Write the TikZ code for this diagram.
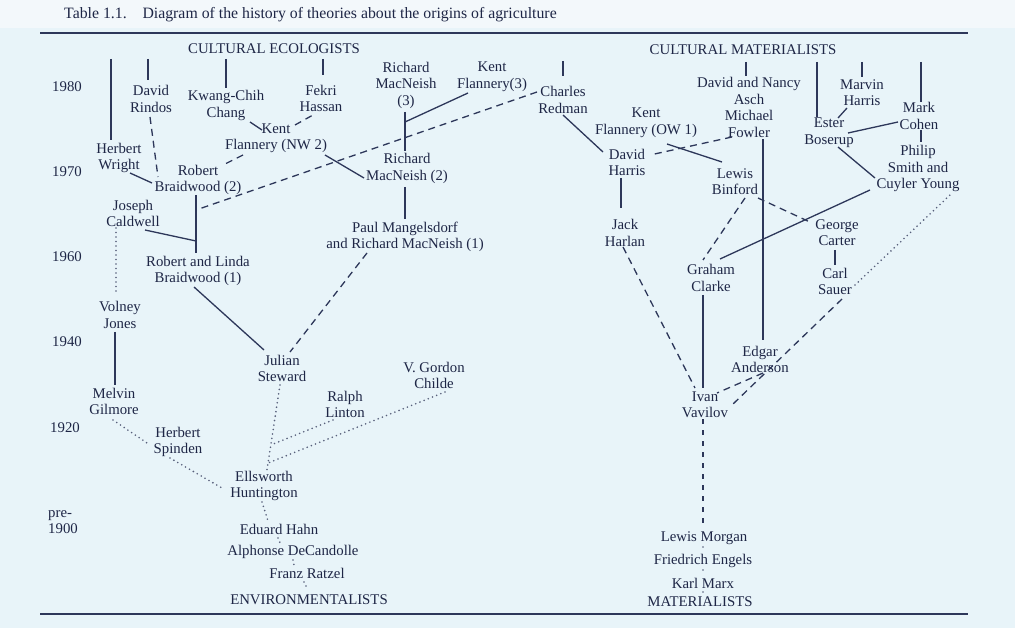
\documentclass[tikz,border=0pt]{standalone}
\usepackage{fontspec}
\setmainfont{Liberation Serif}
\usetikzlibrary{calc}
\definecolor{bg}{RGB}{232,244,249}
\definecolor{bgtop}{RGB}{243,248,251}
\definecolor{ink}{RGB}{30,38,70}
\definecolor{lnk}{RGB}{45,55,90}
\begin{document}
\begin{tikzpicture}[x=1pt,y=-1pt,
  nm/.style={align=center, font=\fontsize{14.8}{16.5}\selectfont, text=ink, inner sep=1pt},
  sol/.style={draw=lnk, line width=1.3pt},
  dsh/.style={draw=lnk, line width=1.3pt, dash pattern=on 7pt off 5pt},
  vdsh/.style={draw=lnk, line width=1.3pt, dash pattern=on 5pt off 6pt},
  dtt/.style={draw=lnk!80, line width=1.8pt, line cap=round, dash pattern=on 0pt off 4.5pt},
  rule/.style={draw=lnk, line width=1.4pt}]
\fill[bg] (0,0) rectangle (1015,628);
\fill[bgtop] (0,0) rectangle (1015,28);
\useasboundingbox (0,0) rectangle (1015,628);

% title and rules
\node[anchor=west, inner sep=0pt, text=ink, font=\fontsize{15.8}{18}\selectfont] (title) at (64,15) {Table 1.1.\quad Diagram of the history of theories about the origins of agriculture};
\draw[rule] (40,33) -- (968,33);
\draw[rule] (40,614) -- (968,614);

% years
\node[nm] (y1980) at (67,87) {1980};
\node[nm] (y1970) at (67,172) {1970};
\node[nm] (y1960) at (67,257) {1960};
\node[nm] (y1940) at (67,342) {1940};
\node[nm] (y1920) at (65,428) {1920};
\node[nm, align=left, anchor=west] (y1900) at (47,522) {pre-\\1900};

% headers
\node[nm] (ce) at (274,49) {CULTURAL ECOLOGISTS};
\node[nm] (cm) at (743,50) {CULTURAL MATERIALISTS};
\node[nm] (env) at (309,600) {ENVIRONMENTALISTS};
\node[nm] (mat) at (700,602) {MATERIALISTS};

% left / ecologists
\node[nm] (wright) at (119,158) {Herbert\\Wright};
\node[nm] (rindos) at (151,99) {David\\Rindos};
\node[nm] (chang) at (226,105.5) {Kwang-Chih\\Chang};
\node[nm] (hassan) at (321,98.5) {Fekri\\Hassan};
\node[nm] (nw2) at (276,138.5) {Kent\\Flannery (NW 2)};
\node[nm] (bw2) at (198,180) {Robert\\Braidwood (2)};
\node[nm] (mac3) at (406,85) {Richard\\MacNeish\\(3)};
\node[nm] (fl3) at (492,77) {Kent\\Flannery(3)};
\node[nm] (mac2) at (407,168.5) {Richard\\MacNeish (2)};
\node[nm] (mang) at (405,237) {Paul Mangelsdorf\\and Richard MacNeish (1)};
\node[nm] (redman) at (563,100) {Charles\\Redman};
\node[nm] (caldwell) at (133,213.5) {Joseph\\Caldwell};
\node[nm] (bw1) at (198,271) {Robert and Linda\\Braidwood (1)};
\node[nm] (steward) at (282,368.5) {Julian\\Steward};
\node[nm] (volney) at (120,315) {Volney\\Jones};
\node[nm] (gilmore) at (114,401.5) {Melvin\\Gilmore};
\node[nm] (spinden) at (178,442) {Herbert\\Spinden};
\node[nm] (linton) at (345,404.5) {Ralph\\Linton};
\node[nm] (childe) at (434,375.5) {V. Gordon\\Childe};
\node[nm] (hunt) at (264,486) {Ellsworth\\Huntington};
\node[nm] (hahn) at (279,529) {Eduard Hahn};
\node[nm] (decand) at (293,552) {Alphonse DeCandolle};
\node[nm] (ratzel) at (307,573) {Franz Ratzel};

% right / materialists
\node[nm] (asch) at (749,91) {David and Nancy\\Asch};
\node[nm] (fowler) at (749,124) {Michael\\Fowler};
\node[nm] (ow1) at (646,123) {Kent\\Flannery (OW 1)};
\node[nm] (harris) at (627,162.5) {David\\Harris};
\node[nm] (harlan) at (625,233) {Jack\\Harlan};
\node[nm] (binford) at (735,181.5) {Lewis\\Binford};
\node[nm] (clarke) at (711,278) {Graham\\Clarke};
\node[nm] (carter) at (837,232.5) {George\\Carter};
\node[nm] (sauer) at (835,281.5) {Carl\\Sauer};
\node[nm] (anderson) at (760,359.5) {Edgar\\Anderson};
\node[nm] (vavilov) at (705,405) {Ivan\\Vavilov};
\node[nm] (morgan) at (704,538) {Lewis Morgan};
\node[nm] (engels) at (703,561) {Friedrich Engels};
\node[nm] (marx) at (703,583) {Karl Marx};
\node[nm] (ester) at (829,132.5) {Ester\\Boserup};
\node[nm] (marvin) at (862,92.5) {Marvin\\Harris};
\node[nm] (cohen) at (919,116) {Mark\\Cohen};
\node[nm] (smith) at (918,168.5) {Philip\\Smith and\\Cuyler Young};

% top free ends
\coordinate (tWr) at (111,59);
\coordinate (tRi) at (148,59);
\coordinate (tCh) at (226,59);
\coordinate (tHa) at (323,59);
\coordinate (tRe) at (563,61);
\coordinate (tAs) at (746,62);
\coordinate (tEs) at (817,62);
\coordinate (tMa) at (862,62);
\coordinate (tCo) at (921,62);
\draw[sol] (tWr) -- ($(wright)+(-8,-18)$);
\draw[sol] (tRi) -- ($(rindos)+(-3,-19)$);
\draw[sol] (tCh) -- ($(chang)+(0,-17.5)$);
\draw[sol] (tHa) -- ($(hassan)+(2,-23.5)$);
\draw[sol] (tRe) -- ($(redman)+(0,-24)$);
\draw[sol] (tAs) -- ($(asch)+(-3,-15)$);
\draw[sol] (tEs) -- ($(ester)+(-12,-15)$);
\draw[sol] (tMa) -- ($(marvin)+(0,-15.5)$);
\draw[sol] (tCo) -- ($(cohen)+(2,-14)$);

% junctions
\coordinate (jBw) at ($(bw2)+(-2,30)$);
\coordinate (jCal) at ($(bw1)+(-2,-30)$);
\coordinate (jMac) at ($(mac3)+(-1,37)$);

% solid connectors
\draw[sol] ($(chang)+(24,16.5)$) -- ($(nw2)+(-14,-8.5)$);
\draw[sol] ($(nw2)+(49,16.5)$) -- ($(mac2)+(-43,9.5)$);
\draw[sol] ($(wright)+(11,15)$) -- ($(bw2)+(-46,3)$);
\draw[sol] ($(bw2)+(-2,15)$) -- ($(bw1)+(-2,-18)$);
\draw[sol] ($(caldwell)+(12,16.5)$) -- (jCal);
\draw[sol] ($(bw1)+(-4,16)$) -- ($(steward)+(-18,-18.5)$);
\draw[sol] ($(mac3)+(-1,27)$) -- ($(mac2)+(-2,-17.5)$);
\draw[sol] ($(fl3)+(-24,16)$) -- (jMac);
\draw[sol] ($(mac2)+(-2,18.5)$) -- ($(mang)+(0,-18)$);
\draw[sol] ($(volney)+(-5,17)$) -- ($(gilmore)+(1,-16.5)$);
\draw[sol] ($(redman)+(0,15)$) -- ($(harris)+(-24,-10.5)$);
\draw[sol] ($(ow1)+(21,21)$) -- ($(binford)+(-13,-19.5)$);
\draw[sol] ($(harris)+(-6,15.5)$) -- ($(harlan)+(-4,-25)$);
\draw[sol] ($(fowler)+(14,15)$) -- ($(anderson)+(3,-19.5)$);
\draw[sol] ($(clarke)+(9,-19)$) -- ($(smith)+(-48,21.5)$);
\draw[sol] ($(clarke)+(-8,17)$) -- ($(vavilov)+(-2,-17)$);
\draw[sol] ($(carter)+(-2,17.5)$) -- ($(sauer)+(0,-16.5)$);
\draw[sol] ($(marvin)+(-15,15.5)$) -- ($(ester)+(9,-14.5)$);
\draw[sol] ($(cohen)+(-21,6)$) -- ($(ester)+(19,0.5)$);
\draw[sol] ($(cohen)+(2,14)$) -- ($(smith)+(3,-26.5)$);
\draw[sol] ($(ester)+(9,14.5)$) -- ($(smith)+(-43,9.5)$);

% dashed connectors
\draw[dsh] ($(rindos)+(-1,18)$) -- ($(bw2)+(-40,-3)$);
\draw[dsh] ($(nw2)+(-33,16.5)$) -- ($(bw2)+(25,-15)$);
\draw[dsh] ($(nw2)+(19,-13.5)$) -- ($(hassan)+(-8,16.5)$);
\draw[dsh] ($(redman)+(-26,-8)$) -- (jBw);
\draw[dsh] ($(mang)+(-38,16)$) -- ($(steward)+(8,-16.5)$);
\draw[dsh] ($(fowler)+(-17,13)$) -- ($(harris)+(23,-7.5)$);
\draw[dsh] ($(binford)+(10,16.5)$) -- ($(clarke)+(-8,-18)$);
\draw[dsh] ($(binford)+(23,16.5)$) -- ($(carter)+(-25,-9.5)$);
\draw[dsh] ($(harlan)+(-2,14)$) -- ($(vavilov)+(-10,-17)$);
\draw[dsh] ($(anderson)+(3,13.5)$) -- ($(vavilov)+(12,-12)$);
\draw[dsh] ($(sauer)+(7,17.5)$) -- ($(vavilov)+(27,0)$);
\draw[vdsh] ($(vavilov)+(-2,14)$) -- ($(morgan)+(-1,-11)$);

% dotted connectors
\coordinate (sB) at ($(steward)+(-2,16.5)$);
\coordinate (sE) at ($(hunt)+(3,-16)$);
\coordinate (jL) at ($(sB)!0.706!(sE)$);
\coordinate (jC) at ($(sB)!0.918!(sE)$);
\draw[dtt] ($(caldwell)+(-17,14.5)$) -- ($(volney)+(-4,-20)$);
\draw[dtt] ($(gilmore)+(-1,18.5)$) -- ($(spinden)+(-28,3)$);
\draw[dtt] ($(spinden)+(-8,16)$) -- ($(hunt)+(-42,2)$);
\draw[dtt] (sB) -- (sE);
\draw[dtt] ($(linton)+(-12,15.5)$) -- (jL);
\draw[dtt] ($(childe)+(11,16.5)$) -- (jC);
\draw[dtt] ($(hunt)+(-2,16)$) -- ($(hahn)+(-11,-8)$);
\draw[dtt] ($(hahn)+(-1,9)$) -- ($(decand)+(-12,-7)$);
\draw[dtt] ($(decand)+(0,8)$) -- ($(ratzel)+(-13,-8)$);
\draw[dtt] ($(ratzel)+(-3,9)$) -- ($(env)+(-1,-10)$);
\draw[dtt] ($(sauer)+(20,3.5)$) -- ($(smith)+(32,26.5)$);
\draw[dtt] ($(morgan)+(-1,9)$) -- ($(engels)+(0,-12)$);
\draw[dtt] ($(engels)+(0,9)$) -- ($(marx)+(0,-12)$);
\draw[dtt] ($(marx)+(0,9)$) -- ($(mat)+(3,-10)$);
\end{tikzpicture}
\end{document}
